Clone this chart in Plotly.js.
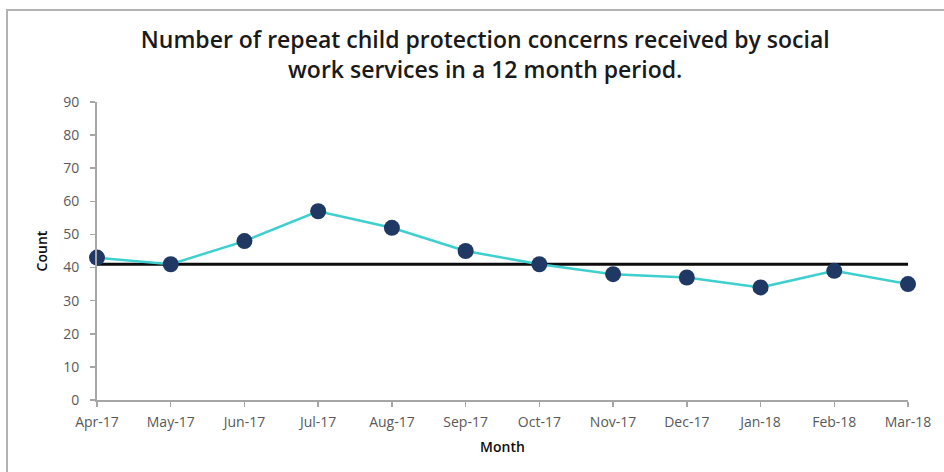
<!DOCTYPE html>
<html>
<head>
<meta charset="utf-8">
<script src="https://cdn.plot.ly/plotly-3.0.1.min.js"></script>
<style>
  html, body { margin: 0; padding: 0; background: #fff; }
  #wrap { position: relative; width: 944px; height: 472px; overflow: hidden; }
  #chart { position: absolute; left: 0; top: 0; width: 944px; height: 472px; }
  #frame { position: absolute; left: 6px; top: 9px; width: 1000px; height: 600px;
           border-left: 2px solid #b3b3b3; border-top: 2px solid #b3b3b3; pointer-events: none; }
</style>
</head>
<body>
<div id="wrap">
  <div id="chart"></div>
  <div id="frame"></div>
</div>
<script>
const months = ["Apr-17","May-17","Jun-17","Jul-17","Aug-17","Sep-17","Oct-17","Nov-17","Dec-17","Jan-18","Feb-18","Mar-18"];
const counts = [43, 41, 48, 57, 52, 45, 41, 38, 37, 34, 39, 35];
const yTicks = [0, 10, 20, 30, 40, 50, 60, 70, 80, 90];

function median(arr) {
  const s = arr.slice().sort((a, b) => a - b);
  const m = Math.floor(s.length / 2);
  return s.length % 2 ? s[m] : (s[m - 1] + s[m]) / 2;
}
const med = median(counts);
const medLine = months.map(() => med);

const tickFont = { family: "Open Sans, Liberation Sans, sans-serif", size: 14, color: "#595959" };

const data = [
  {
    x: months, y: medLine, type: "scatter", mode: "lines",
    line: { color: "#0d0d0d", width: 3 }, hoverinfo: "skip", showlegend: false,
    cliponaxis: false
  },
  {
    x: months, y: counts, type: "scatter", mode: "lines+markers",
    line: { color: "#3fcfcf", width: 2.5 },
    marker: { color: "#1f3864", size: 16 },
    showlegend: false, cliponaxis: false
  }
];

const layout = {
  width: 944, height: 472,
  margin: { l: 97, r: 36, t: 102, b: 72 },
  paper_bgcolor: "rgba(0,0,0,0)",
  plot_bgcolor: "rgba(0,0,0,0)",
  showlegend: false,
  title: {
    text: "Number of repeat child protection concerns received by social<br>work services in a 12 month period.",
    font: { family: "Open Sans, Liberation Sans, sans-serif", size: 23, color: "#1a1a1a", weight: 600 },
    x: 0.514, xanchor: "center", xref: "container",
    y: 0.898, yanchor: "middle"
  },
  xaxis: {
    type: "category",
    range: [0, months.length - 1],
    showgrid: false, zeroline: false,
    showline: true, linecolor: "#a6a6a6", linewidth: 2,
    ticks: "outside", ticklen: 5, tickcolor: "#a6a6a6", tickwidth: 1.5,
    tickfont: tickFont,
    ticklabelstandoff: 3,
    title: { text: "Month", font: { family: "Open Sans, Liberation Sans, sans-serif", size: 14, color: "#0d0d0d", weight: 600 }, standoff: 12 },
    fixedrange: true
  },
  yaxis: {
    range: [0, 90],
    tickvals: yTicks,
    showgrid: false, zeroline: false,
    showline: true, linecolor: "#a6a6a6", linewidth: 2,
    ticks: "outside", ticklen: 5, tickcolor: "#a6a6a6", tickwidth: 1.5,
    tickfont: tickFont,
    ticklabelstandoff: 8,
    title: { text: "Count", font: { family: "Open Sans, Liberation Sans, sans-serif", size: 14, color: "#0d0d0d", weight: 600 }, standoff: 12 },
    fixedrange: true
  }
};

Plotly.newPlot("chart", data, layout, { displayModeBar: false, staticPlot: true });
</script>
</body>
</html>
